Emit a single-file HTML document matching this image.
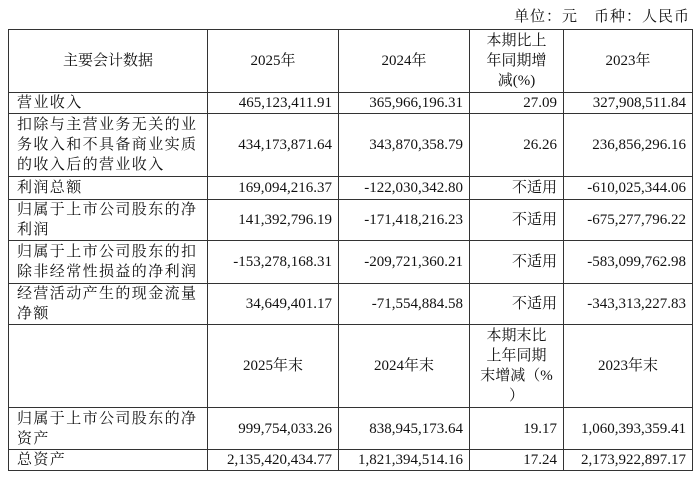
<!DOCTYPE html>
<html><head><meta charset="utf-8"><style>
body{margin:0;width:700px;height:479px;background:#fff;font-family:"Liberation Serif","Noto Serif CJK SC",serif;color:#111;position:relative;overflow:hidden}
.u{position:absolute;right:10px;top:5px;font-size:15px;letter-spacing:1px}
table{position:absolute;left:8px;top:29px;border-collapse:collapse;table-layout:fixed;font-size:15px}
td{border:1.3px solid #333;padding:0 6px;line-height:20px;vertical-align:middle;overflow:hidden}
td.l{text-align:left;letter-spacing:1.4px;padding-left:8px;padding-right:2px}
td.n{text-align:right}
td.c{text-align:center}
</style></head><body>
<div class="u">单位：元　币种：人民币</div>
<table>
<colgroup><col style="width:199px"><col style="width:131px"><col style="width:131px"><col style="width:94px"><col style="width:129px"></colgroup>
<tr style="height:63px"><td class="c">主要会计数据</td><td class="c">2025年</td><td class="c">2024年</td><td class="c" style="padding:0 2px">本期比上<br>年同期增<br>减(%)</td><td class="c">2023年</td></tr>
<tr style="height:21px"><td class="l">营业收入</td><td class="n">465,123,411.91</td><td class="n">365,966,196.31</td><td class="n">27.09</td><td class="n">327,908,511.84</td></tr>
<tr style="height:63px"><td class="l">扣除与主营业务无关的业务收入和不具备商业实质的收入后的营业收入</td><td class="n">434,173,871.64</td><td class="n">343,870,358.79</td><td class="n">26.26</td><td class="n">236,856,296.16</td></tr>
<tr style="height:23px"><td class="l">利润总额</td><td class="n">169,094,216.37</td><td class="n">-122,030,342.80</td><td class="n">不适用</td><td class="n">-610,025,344.06</td></tr>
<tr style="height:41px"><td class="l">归属于上市公司股东的净利润</td><td class="n">141,392,796.19</td><td class="n">-171,418,216.23</td><td class="n">不适用</td><td class="n">-675,277,796.22</td></tr>
<tr style="height:43px"><td class="l">归属于上市公司股东的扣除非经常性损益的净利润</td><td class="n">-153,278,168.31</td><td class="n">-209,721,360.21</td><td class="n">不适用</td><td class="n">-583,099,762.98</td></tr>
<tr style="height:41px"><td class="l">经营活动产生的现金流量净额</td><td class="n">34,649,401.17</td><td class="n">-71,554,884.58</td><td class="n">不适用</td><td class="n">-343,313,227.83</td></tr>
<tr style="height:83px"><td></td><td class="c">2025年末</td><td class="c">2024年末</td><td class="c" style="padding:0 2px">本期末比<br>上年同期<br>末增减（%<br>）</td><td class="c">2023年末</td></tr>
<tr style="height:42px"><td class="l">归属于上市公司股东的净资产</td><td class="n">999,754,033.26</td><td class="n">838,945,173.64</td><td class="n">19.17</td><td class="n">1,060,393,359.41</td></tr>
<tr style="height:21px"><td class="l">总资产</td><td class="n">2,135,420,434.77</td><td class="n">1,821,394,514.16</td><td class="n">17.24</td><td class="n">2,173,922,897.17</td></tr>
</table>
</body></html>
